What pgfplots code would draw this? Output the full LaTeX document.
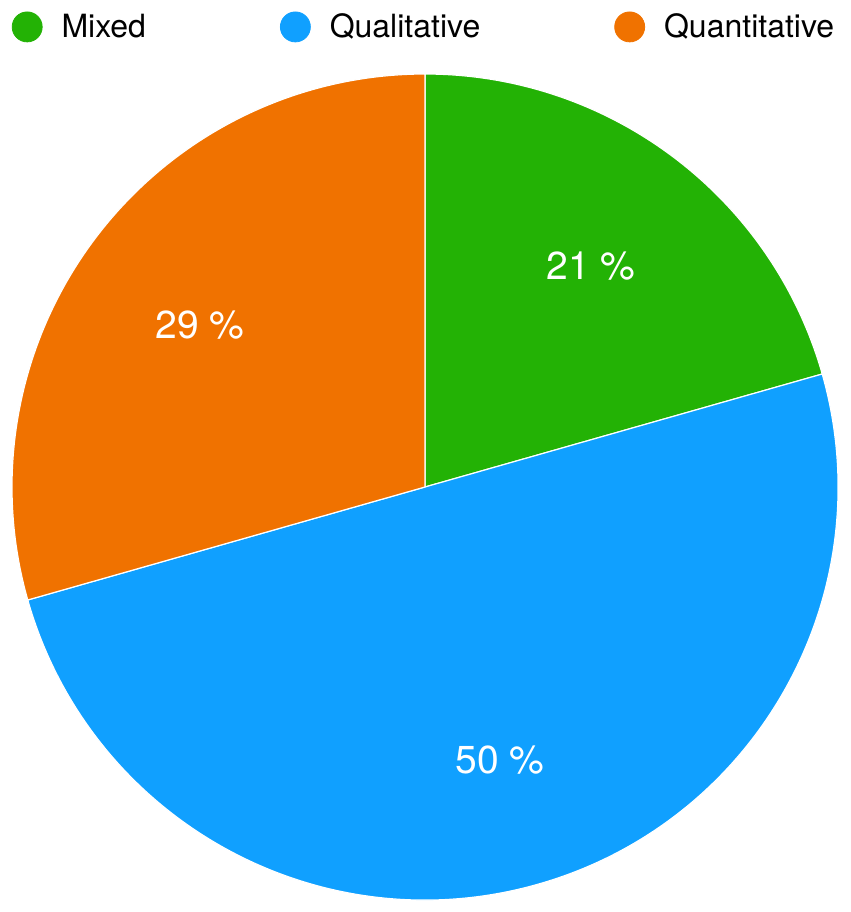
\documentclass[border=0pt]{standalone}
\usepackage{pgfplots}
\pgfplotsset{compat=1.18}
\usepackage{fontspec}
\setmainfont{TeX Gyre Heros}

\definecolor{mixgreen}{RGB}{35,178,5}
\definecolor{qualblue}{RGB}{16,160,255}
\definecolor{quantorange}{RGB}{240,114,0}

% one wedge: start angle, end angle, colour (radius = half the axis width)
\newcommand{\pieslice}[3]{%
  \fill[#3, draw=white, line width=0.6pt] (axis cs:0,0) -- ([shift={(#1:206.5pt)}]axis cs:0,0)
    arc[start angle=#1, end angle=#2, radius=206.5pt] -- cycle;}

\begin{document}
\begin{tikzpicture}
  \begin{axis}[
    scale only axis, width=413pt, height=413pt,
    xmin=-1, xmax=1, ymin=-1, ymax=1,
    hide axis,
    legend columns=3,
    legend image code/.code={\fill (7.5pt,0pt) circle[radius=7.5pt];},
    legend style={draw=none, fill=none, font=\fontsize{16}{19}\selectfont,
      at={(0.5,1.057)}, anchor=center,
      /tikz/every odd column/.append style={column sep=7.5pt},
      /tikz/every even column/.append style={column sep=65pt}},
  ]
  % shares 7/34, 17/34, 10/34 (20.6, 50, 29.4 %), clockwise from the top
  \pieslice{90}{15.88}{mixgreen}
  \pieslice{15.88}{-164.12}{qualblue}
  \pieslice{-164.12}{-270}{quantorange}

  \addlegendimage{mixgreen}
  \addlegendentry{Mixed}
  \addlegendimage{qualblue}
  \addlegendentry{Qualitative}
  \addlegendimage{quantorange}
  \addlegendentry{Quantitative}

  \node[white, font=\fontsize{19.5}{22}\selectfont] at (axis cs:0.402,0.535) {21 \%};
  \node[white, font=\fontsize{19.5}{22}\selectfont] at (axis cs:-0.545,0.392) {29 \%};
  \node[white, font=\fontsize{19.5}{22}\selectfont] at (axis cs:0.182,-0.661) {50 \%};
  \end{axis}
  \path (-6pt,-6pt) rectangle (419.5pt,450pt);
\end{tikzpicture}
\end{document}
